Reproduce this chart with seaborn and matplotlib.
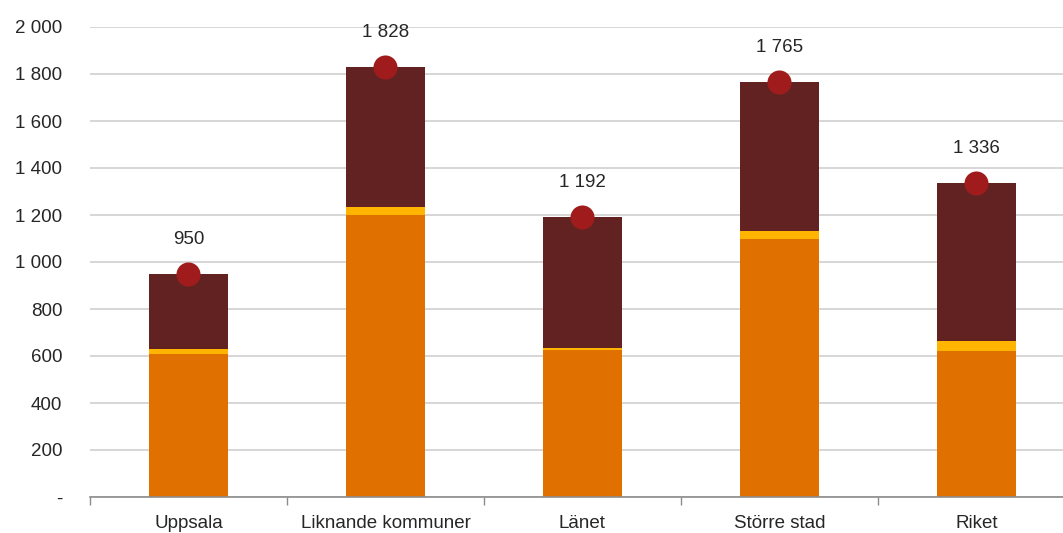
import matplotlib
matplotlib.use("Agg")
from matplotlib import pyplot as plt
import seaborn as sns
import pandas as pd
import numpy as np

categories = ["Uppsala", "Liknande kommuner", "Länet", "Större stad", "Riket"]
orange_vals = [607, 1200, 626, 1099, 623]
yellow_vals = [24, 33, 7, 34, 41]
brown_vals = [319, 595, 559, 632, 672]
totals = [950, 1828, 1192, 1765, 1336]
total_labels = ["950", "1 828", "1 192", "1 765", "1 336"]
ytick_vals = [0, 200, 400, 600, 800, 1000, 1200, 1400, 1600, 1800, 2000]
ytick_labels = ["-", "200", "400", "600", "800", "1 000", "1 200", "1 400", "1 600", "1 800", "2 000"]

sns.set_theme(style="white")
plt.rcParams['font.family'] = ['Liberation Sans', 'DejaVu Sans']
fs = 13.5

df = pd.DataFrame({
    "cat": categories,
    "orange": orange_vals,
    "yellow": yellow_vals,
    "brown": brown_vals,
    "total": totals,
})
df["orange_yellow"] = df["orange"] + df["yellow"]
df["stack_top"] = df["orange_yellow"] + df["brown"]

fig = plt.figure(figsize=(10.63, 5.33), dpi=100)
ax = fig.add_axes([90 / 1063, 36 / 533, 1 - 90 / 1063, 470 / 533])

# stacked look: draw cumulative heights back to front
sns.barplot(data=df, x="cat", y="stack_top", color="#622222", width=0.4,
            linewidth=0, saturation=1, ax=ax, zorder=2)
sns.barplot(data=df, x="cat", y="orange_yellow", color="#FFB400", width=0.4,
            linewidth=0, saturation=1, ax=ax, zorder=2)
sns.barplot(data=df, x="cat", y="orange", color="#E07000", width=0.4,
            linewidth=0, saturation=1, ax=ax, zorder=2)
sns.scatterplot(data=df, x="cat", y="total", color="#A01C1C", s=300,
                linewidth=0, ax=ax, zorder=3)

for i, (t, lab) in enumerate(zip(totals, total_labels)):
    ax.annotate(lab, (i, t), xytext=(0, 25), textcoords="offset points",
                ha="center", va="center", fontsize=fs, color="#262626")

ax.set_yticks(ytick_vals)
ax.set_yticklabels(ytick_labels, fontsize=fs, color="#262626")
ax.yaxis.grid(True, color="#D0D0D0", linewidth=1.2)
ax.set_axisbelow(True)
ax.tick_params(axis="y", length=0, pad=20)

# category separator ticks on the x axis
ax.set_xticks(np.arange(len(categories)))
ax.set_xticklabels(categories, fontsize=fs, color="#262626")
ax.set_xticks(np.arange(len(categories) + 1) - 0.5, minor=True)
ax.tick_params(axis="x", which="major", length=0, pad=13)
ax.tick_params(axis="x", which="minor", length=6, width=1, color="#8C8C8C", direction="out", bottom=True)

# plot area runs off the right edge of the picture
ax.set_xlim(-0.5, 4.44)
ax.set_ylim(0, 2000)

for side in ["left", "right", "top"]:
    ax.spines[side].set_visible(False)
ax.spines["bottom"].set_color("#8C8C8C")
ax.spines["bottom"].set_linewidth(1.2)
ax.set_xlabel("")
ax.set_ylabel("")

fig.savefig("out.png", dpi=100)
